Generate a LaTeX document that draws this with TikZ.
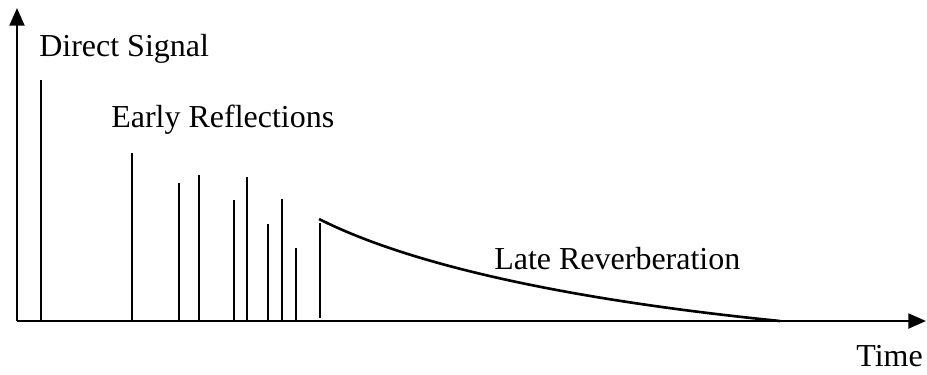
\documentclass[tikz,border=0pt]{standalone}
\usepackage{fontspec}
\setmainfont{Liberation Serif}
\usepackage{tikz}
\usetikzlibrary{arrows.meta}

\begin{document}
\begin{tikzpicture}[>={Triangle[length=5pt,width=4.2pt]}, line width=0.75pt,
    label/.style={anchor=base west, inner sep=0pt, font=\fontsize{9.1pt}{11pt}\selectfont}]
    \useasboundingbox (0,0) rectangle (9.27,3.74);

    % Axes
    \coordinate (O) at (0.17,0.53);
    \coordinate (Ytip) at (0.17,3.66);
    \coordinate (Xtip) at (9.26,0.53);
    \draw[->] (O) -- (Ytip);
    \draw[->] (O) -- (Xtip);

    % Direct signal
    \draw (0.41,0.53) -- (0.41,2.94);
    \node[label] (direct) at (0.38,3.18) {Direct Signal};

    % Early reflections
    \foreach \x/\h in {1.32/2.21, 1.79/1.91, 1.99/1.99, 2.34/1.74, 2.47/1.97,
                       2.68/1.50, 2.82/1.75, 2.96/1.26}
        \draw (\x,0.53) -- (\x,\h);
    \node[label] (early) at (1.10,2.47) {Early Reflections};

    % Late reverberation
    \draw (3.20,0.56) -- (3.20,1.51);
    \draw (3.19,1.55) .. controls (4.30,0.99) and (6.20,0.69) .. (7.80,0.53);
    \node[label] (late) at (4.93,1.05) {Late Reverberation};

    \node[label] (time) at (8.55,0.08) {Time};
\end{tikzpicture}
\end{document}
